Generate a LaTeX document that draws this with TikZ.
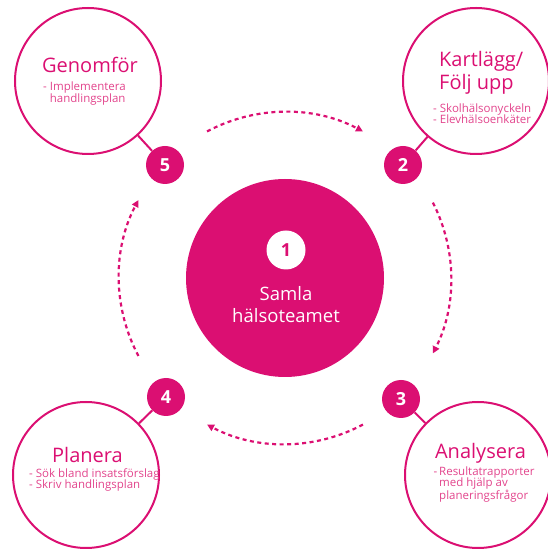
\documentclass[tikz,border=0pt]{standalone}
\usepackage{fontspec}
\setmainfont{Open Sans}
\usetikzlibrary{arrows.meta}

\definecolor{rosa}{HTML}{DB0F72}
\definecolor{ljusrosa}{HTML}{E2448C}

\tikzset{
  fas/.style={circle, draw=rosa, line width=2pt, minimum size=146pt, inner sep=0pt},
  nummer/.style={circle, fill=rosa, minimum size=38pt, inner sep=0pt, text=white,
    font=\fontsize{18}{18}\selectfont\bfseries},
  rubrik/.style={text=rosa, font=\fontsize{20}{23}\selectfont, inner sep=0pt},
  punkter/.style={text=ljusrosa, font=\fontsize{11.5}{11.8}\selectfont, align=left,
    inner sep=0pt, anchor=base west},
  koppling/.style={draw=rosa, line width=2pt},
  pil/.style={rosa, line width=2.2pt, dash pattern=on 4pt off 3.5pt,
    -{Triangle[length=7pt,width=7pt]}},
}

\begin{document}
\begin{tikzpicture}[x=1pt, y=1pt]
  \useasboundingbox (0,0) rectangle (547,549);

  \def\mx{285}
  \def\my{271}
  \def\r{166}

  % mitten
  \node[circle, fill=rosa, minimum size=198pt, inner sep=0pt] (samla) at (\mx,\my) {};
  \node[circle, fill=white, minimum size=39pt, inner sep=0pt, text=rosa,
    font=\fontsize{18}{18}\selectfont\bfseries] (n1) at (286,299) {1};
  \node[text=white, font=\fontsize{18.5}{22}\selectfont, align=center, inner sep=0pt,
    anchor=base] (samlatext) at (286,226) {Samla\\hälsoteamet};

  % faserna runt om
  \node[fas] (genomfor) at (88,468) {};
  \node[fas] (kartlagg) at (476,468) {};
  \node[fas] (planera) at (86,74) {};
  \node[fas] (analysera) at (478,74) {};

  \node[nummer] (n5) at (165,384) {5};
  \node[nummer] (n2) at (403,384) {2};
  \node[nummer] (n4) at (166,152) {4};
  \node[nummer] (n3) at (401,150) {3};

  \draw[koppling] (genomfor) -- (n5);
  \draw[koppling] (kartlagg) -- (n2);
  \draw[koppling] (planera) -- (n4);
  \draw[koppling] (analysera) -- (n3);

  % pilar
  \draw[pil] (samla.center) ++(118:\r) arc[start angle=118, end angle=62, radius=\r];
  \draw[pil] (samla.center) ++(27:\r) arc[start angle=27, end angle=-27, radius=\r];
  \draw[pil] (samla.center) ++(-62:\r) arc[start angle=-62, end angle=-118, radius=\r];
  \draw[pil] (samla.center) ++(208:\r) arc[start angle=208, end angle=152, radius=\r];

  % texter (base = sista radens baslinje)
  \node[rubrik, anchor=base] (genomfor-rubrik) at (90,476) {Genomför};
  \node[punkter] (genomfor-punkter) at (43,446.5) {- Implementera\\\phantom{- }handlingsplan};

  \node[rubrik, anchor=base west, align=left] (kartlagg-rubrik) at (439,459) {Kartlägg/\\Följ upp};
  \node[punkter] (kartlagg-punkter) at (433,425) {- Skolhälsonyckeln\\- Elevhälsoenkäter};

  \node[rubrik, anchor=base] (planera-rubrik) at (87.5,86) {Planera};
  \node[punkter] (planera-punkter) at (29,60) {- Sök bland insatsförslag\\- Skriv handlingsplan};

  \node[rubrik, anchor=base] (analysera-rubrik) at (480.5,90) {Analysera};
  \node[punkter] (analysera-punkter) at (439,49) {\llap{-\,}Resultatrapporter\\med hjälp av\\planeringsfrågor};
\end{tikzpicture}
\end{document}
